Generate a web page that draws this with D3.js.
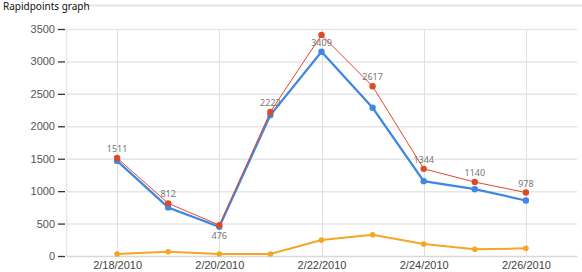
<!DOCTYPE html>
<html>
<head>
<meta charset="utf-8">
<script src="https://cdn.jsdelivr.net/npm/d3@7/dist/d3.min.js"></script>
<style>
  body { margin: 0; background: #fff; }
  svg { display: block; }
</style>
</head>
<body>
<div id="container"></div>
<script>
const dates = ['2010-02-18', '2010-02-19', '2010-02-20', '2010-02-21', '2010-02-22',
  '2010-02-23', '2010-02-24', '2010-02-25', '2010-02-26'];
const redValues = [1511, 812, 476, 2222, 3409, 2617, 1344, 1140, 978];
const blueValues = [1466, 749, 451, 2174, 3149, 2285, 1154, 1031, 855];
const orangeValues = [30, 65, 31, 31, 246, 328, 185, 103, 118];
const yTicks = [0, 500, 1000, 1500, 2000, 2500, 3000, 3500];
const xTickDates = ['2010-02-18', '2010-02-20', '2010-02-22', '2010-02-24', '2010-02-26'];

const WIDTH = 582;
const HEIGHT = 272;
const parse = d3.timeParse('%Y-%m-%d');

let canvas = d3.select('#container').append('svg').attr('width', WIDTH).attr('height', HEIGHT)
  .attr('font-family', '"Segoe UI", "Noto Sans", sans-serif');

// group box title
canvas.append('line').attr('x1', 78).attr('x2', WIDTH).attr('y1', 5.5).attr('y2', 5.5)
  .attr('stroke', '#e3e3e3').attr('stroke-width', 2);
canvas.append('text').attr('x', 3).attr('y', 10).attr('font-size', 10).attr('fill', '#111')
  .text('Rapidpoints graph');

let x = d3.scaleTime().domain([parse('2010-02-17'), parse('2010-02-27')]).range([66, 577]);
let y = d3.scaleLinear().domain([0, 3500]).range([256, 29]);

let grid = canvas.append('g');
grid.selectAll('.hg').data(yTicks.slice(1)).join('line')
  .attr('x1', 66).attr('x2', 577).attr('y1', (d) => y(d) + 0.5).attr('y2', (d) => y(d) + 0.5)
  .attr('stroke', '#e6e6e6').attr('stroke-width', 1.5);
grid.selectAll('.vg').data(xTickDates).join('line')
  .attr('x1', (d) => Math.round(x(parse(d))) + 0.5).attr('x2', (d) => Math.round(x(parse(d))) + 0.5)
  .attr('y1', 29).attr('y2', 256).attr('stroke', '#e0e0e0');
grid.append('line').attr('x1', 66.5).attr('x2', 66.5).attr('y1', 29).attr('y2', 256)
  .attr('stroke', '#e6e6e6').attr('stroke-width', 1.5);

let yAxis = d3.axisLeft(y).tickValues(yTicks).tickSize(7).tickPadding(3).tickFormat(d3.format('d'));
let ya = canvas.append('g').attr('transform', 'translate(65,0)').call(yAxis);
ya.select('.domain').remove();
ya.selectAll('line').attr('stroke', '#333').attr('stroke-width', 1.3);
ya.selectAll('text').attr('font-size', 11).attr('fill', '#555');

let xAxis = d3.axisBottom(x).tickValues(xTickDates.map(parse)).tickSize(0).tickPadding(5)
  .tickFormat(d3.timeFormat('%-m/%-d/%Y'));
let xa = canvas.append('g').attr('transform', 'translate(0,256)').call(xAxis);
xa.select('.domain').attr('stroke', '#d8d8d8').attr('stroke-width', 1.5);
xa.selectAll('text').attr('font-size', 11).attr('fill', '#444');

let series = [
  { values: orangeValues, color: '#f5a623', width: 2, r: 2.8 },
  { values: blueValues, color: '#3f87e2', width: 2.2, r: 3.2 },
  { values: redValues, color: '#e0482a', width: 1, r: 3.2 },
];

let line = d3.line().x((d, i) => x(parse(dates[i]))).y((d) => y(d));

series.forEach((s) => {
  let g = canvas.append('g');
  g.append('path').attr('d', line(s.values)).attr('fill', 'none')
    .attr('stroke', s.color).attr('stroke-width', s.width);
  g.selectAll('circle').data(s.values).join('circle')
    .attr('cx', (d, i) => x(parse(dates[i]))).attr('cy', (d) => y(d))
    .attr('r', s.r).attr('fill', s.color);
});

// value labels on the red series
canvas.append('g').attr('font-size', 9).attr('fill', '#777').attr('text-anchor', 'middle')
  .selectAll('text').data(redValues).join('text')
  .attr('x', (d, i) => x(parse(dates[i])))
  .attr('y', (d, i) => {
    let prev = redValues[i - 1], next = redValues[i + 1];
    let isMin = prev !== undefined && next !== undefined && d < prev && d < next;
    if (isMin) return y(d) + 14;
    if (y(d) < 45) return y(d) + 11;
    return y(d) - 6;
  })
  .text((d) => d);
</script>
</body>
</html>
